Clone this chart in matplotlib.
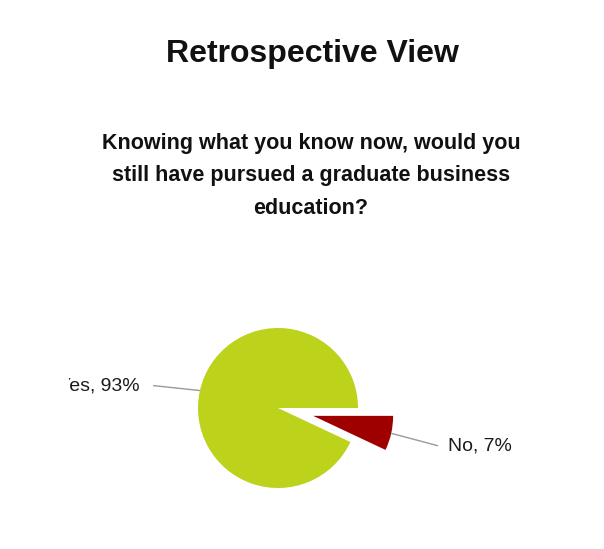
import numpy as np
import matplotlib
matplotlib.use("Agg")
import matplotlib.pyplot as plt
from matplotlib.transforms import Bbox, TransformedBbox

# Survey answers
labels = ["Yes", "No"]
shares = [93, 7]
colors = ["#BDD21B", "#9E0000"]

title = "Retrospective View"
question = ("Knowing what you know now, would you\n"
            "still have pursued a graduate business\n"
            "education?")

W, H = 604, 549
fig = plt.figure(figsize=(W / 100, H / 100), dpi=100)
fig.patch.set_facecolor("white")
ax = fig.add_axes([0, 0, 1, 1])

center = (278, H - 408)
radius = 80
# pie() takes explode offsets in data units
explode = [0.0, 0.45 * radius]
wedges, _ = ax.pie(shares, colors=colors, explode=explode, startangle=0,
                   counterclock=True, center=center, radius=radius,
                   wedgeprops=dict(linewidth=0))
ax.set_xlim(0, W)
ax.set_ylim(0, H)
ax.set_aspect("equal")
ax.axis("off")

font = "Liberation Sans"
clip = TransformedBbox(Bbox.from_extents(68.5, 0, W, H), ax.transData)

# leader-line end nudges (px) and label gaps
nudge_y = [-5.5, -2.0]
gaps = [13, 10]

for w, lab, val, dy, gap in zip(wedges, labels, shares, nudge_y, gaps):
    mid = np.deg2rad((w.theta1 + w.theta2) / 2)
    cx, cy = w.center
    ux, uy = np.cos(mid), np.sin(mid)
    x0, y0 = cx + radius * ux, cy + radius * uy
    x1, y1 = cx + 1.6 * radius * ux, cy + 1.6 * radius * uy + dy
    ax.plot([x0, x1], [y0, y1], color="#9a9a9a", lw=1.0, solid_capstyle="butt")
    side = 1 if ux > 0 else -1
    t = ax.text(x1 + side * gap, y1, f"{lab}, {val}%", ha="left" if side > 0 else "right",
                va="center", fontsize=14, family=font, color="#1a1a1a")
    t.set_clip_box(clip)
    t.set_clip_on(True)

fig.text(312 / W, 1 - 54 / H, title, ha="center", va="center",
         fontsize=23, fontweight="bold", family=font, color="#111111")
fig.text(311 / W, 1 - 176 / H, question, ha="center", va="center",
         fontsize=15.5, fontweight="bold", family=font, color="#111111",
         linespacing=1.73)

fig.savefig("out.png", dpi=100, facecolor="white")
